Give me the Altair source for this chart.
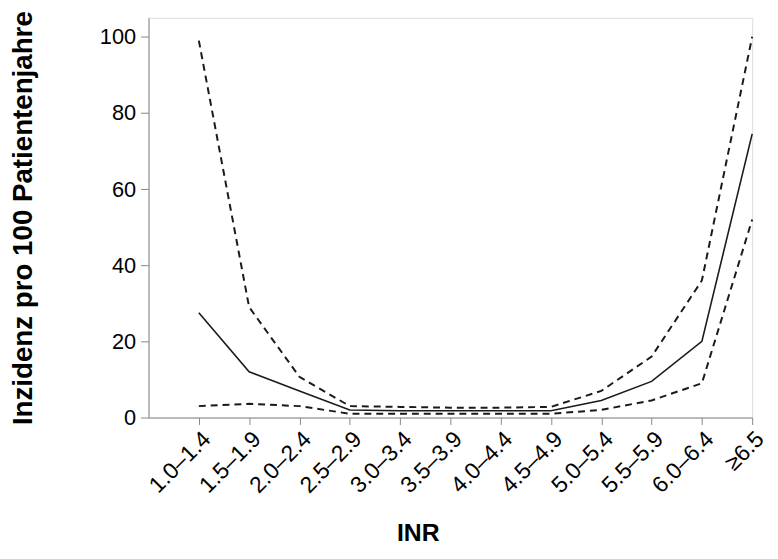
import altair as alt
import pandas as pd

categories = ["1.0–1.4", "1.5–1.9", "2.0–2.4", "2.5–2.9", "3.0–3.4", "3.5–3.9",
              "4.0–4.4", "4.5–4.9", "5.0–5.4", "5.5–5.9", "6.0–6.4", "≥6.5"]
incidence = [27.5, 12.0, 7.0, 2.0, 1.8, 1.8, 1.8, 1.8, 4.5, 9.5, 20.0, 74.5]
upper_ci = [99.0, 29.0, 10.7, 3.0, 2.8, 2.6, 2.6, 2.8, 7.0, 16.0, 36.0, 100.0]
lower_ci = [3.0, 3.6, 3.0, 1.0, 1.0, 1.0, 1.0, 1.0, 2.0, 4.5, 9.0, 52.0]

idx = list(range(len(categories)))
df = pd.DataFrame({"idx": idx, "cat": categories, "inc": incidence,
                   "up": upper_ci, "lo": lower_ci})

label_js = "[" + ",".join('"%s"' % c for c in categories) + "]"

x_enc = alt.X("idx:Q",
              scale=alt.Scale(domain=[-1, 11], nice=False, zero=False),
              axis=alt.Axis(values=idx, labelExpr=label_js + "[datum.value]",
                            title="INR", labelAngle=315, labelAlign="right",
                            labelBaseline="top", labelFontSize=23, labelPadding=3,
                            tickSize=7, grid=False, titleFontSize=25, titleFontWeight="bold",
                            titleX=272, titleY=124, titleAnchor="middle",
                            titleAlign="center", titleBaseline="alphabetic",
                            labelOverlap=False))

def y_enc(field):
    return alt.Y(field + ":Q",
                 scale=alt.Scale(domain=[0, 105], nice=False),
                 axis=alt.Axis(values=[0, 20, 40, 60, 80, 100], grid=False,
                               title="Inzidenz pro 100 Patientenjahre",
                               labelFontSize=22, tickSize=8, labelPadding=5,
                               titleFontSize=28, titleFontWeight="bold",
                               titleAngle=270, titleX=-126, titleY=202,
                               titleAlign="center", titleBaseline="middle"))

base = alt.Chart(df)
solid = base.mark_line(color="#1a1a1a", strokeWidth=1.6).encode(x=x_enc, y=y_enc("inc"))
up = base.mark_line(color="#1a1a1a", strokeWidth=2, strokeDash=[7, 5]).encode(x=x_enc, y=y_enc("up"))
lo = base.mark_line(color="#1a1a1a", strokeWidth=2, strokeDash=[7, 5]).encode(x=x_enc, y=y_enc("lo"))

chart = alt.layer(up, lo, solid).properties(
    width=610, height=404,
    autosize=alt.AutoSizeParams(type="none"),
    padding={"left": 142, "top": 7, "right": 18, "bottom": 132},
).configure_axis(
    labelFont="Liberation Sans", titleFont="Liberation Sans",
    labelColor="#111", titleColor="#111", domainColor="#111", tickColor="#111",
    domainWidth=2, tickWidth=2
).configure_view(stroke=None).configure(background="white")

chart.save("out.html", embed_options={"renderer": "svg", "actions": False})
